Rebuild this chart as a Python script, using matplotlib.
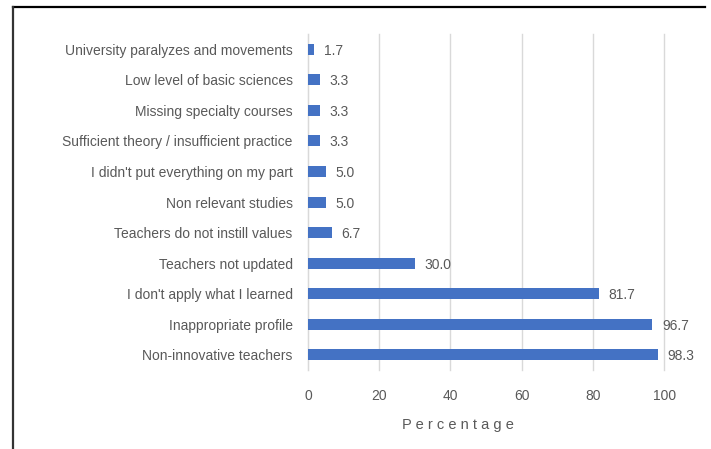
import matplotlib
matplotlib.use("Agg")
import matplotlib.pyplot as plt
from matplotlib.lines import Line2D

categories = [
    "Non-innovative teachers",
    "Inappropriate profile",
    "I don't apply what I learned",
    "Teachers not updated",
    "Teachers do not instill values",
    "Non relevant studies",
    "I didn't put everything on my part",
    "Sufficient theory / insufficient practice",
    "Missing specialty courses",
    "Low level of basic sciences",
    "University paralyzes and movements",
]
values = [98.3, 96.7, 81.7, 30.0, 6.7, 5.0, 5.0, 3.3, 3.3, 3.3, 1.7]
xticks = [0, 20, 40, 60, 80, 100]

plt.rcParams['font.family'] = ['Liberation Sans', 'DejaVu Sans']
text_col = "#595959"

fig = plt.figure(figsize=(7.11, 4.49), dpi=100)
ax = fig.add_axes([0.4332, 0.176, 0.5008, 0.748])

ypos = list(range(len(categories)))
ax.barh(ypos, values, height=0.36, color="#4472C4", zorder=3)
for y, v in zip(ypos, values):
    ax.annotate(f"{v:.1f}", (v, y), xytext=(7, 0), textcoords="offset points",
                va="center_baseline", ha="left", fontsize=10, color=text_col)

ax.set_xlim(0, 100)
ax.set_ylim(-0.5, len(categories) - 0.5)
ax.set_xticks(xticks)
ax.set_yticks(ypos)
ax.set_yticklabels(categories)
ax.tick_params(axis="both", length=0, labelsize=10, colors=text_col)
ax.tick_params(axis="y", pad=11)
ax.tick_params(axis="x", pad=14)
ax.grid(axis="x", color="#D9D9D9", linewidth=1, zorder=0)
for gl in ax.get_xgridlines():
    gl.set_clip_on(False)
for s in ["top", "right", "bottom"]:
    ax.spines[s].set_visible(False)
ax.spines["left"].set_color("#D9D9D9")

fig.text(458 / 711, 1 - 425 / 449, "P e r c e n t a g e", ha="center", va="center",
         fontsize=10.5, color=text_col)

# outer frame (top and left edges)
fig.add_artist(Line2D([13 / 711, 705 / 711], [1 - 7 / 449, 1 - 7 / 449],
                      color="black", linewidth=1.6, transform=fig.transFigure))
fig.add_artist(Line2D([13 / 711, 13 / 711], [1 - 7 / 449, 0],
                      color="#333333", linewidth=1.6, transform=fig.transFigure))

fig.savefig("out.png", dpi=100)
